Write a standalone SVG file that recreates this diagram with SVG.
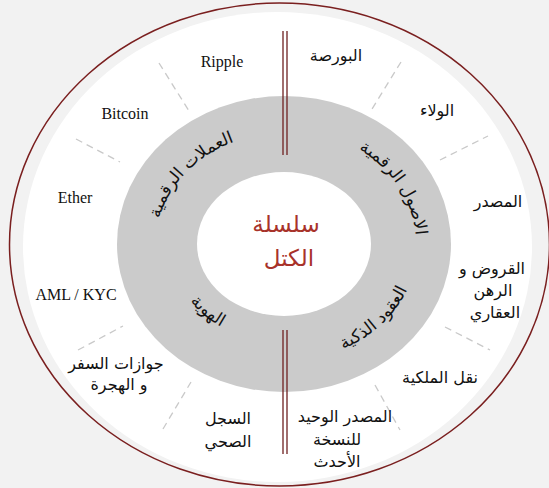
<svg xmlns="http://www.w3.org/2000/svg" width="549" height="488" viewBox="0 0 549 488">
<style>
.en{font-family:"Liberation Serif",serif;font-size:16px;fill:#111;text-anchor:middle}
.ar{font-family:"DejaVu Sans",sans-serif;font-size:16px;fill:#111;text-anchor:middle}
.arc{font-family:"DejaVu Sans",sans-serif;font-size:17px;fill:#111}
.ctr{font-family:"DejaVu Sans",sans-serif;font-size:23px;fill:#a8322a;text-anchor:middle}
.sep{stroke:#c9c9c9;stroke-width:1.3;stroke-dasharray:7 5;fill:none}
.dbl{stroke:#6e1f1f;stroke-width:1.3}
</style>
<defs>
<path id="pTL" d="M165.32,285.58 A128,111 0 0 1 301.81,134.08"/>
<path id="pTR" d="M288.61,129.07 A132,115 0 0 1 395.94,304.94"/>
<path id="pBR" d="M258.43,358.85 A134,117 0 0 0 410.7,205.9"/>
<path id="pBL" d="M174.03,215.05 A115,99 0 0 0 309.87,340.46"/>
</defs>
<rect width="549" height="488" fill="#f2f2f2"/>
<g id="frame">
<ellipse cx="279.5" cy="244.5" rx="270" ry="241.5" fill="none" stroke="#7a1f1f" stroke-width="1.5"/>
<ellipse cx="277.5" cy="247" rx="254.5" ry="235" fill="#ffffff"/>
<ellipse cx="284" cy="244" rx="167" ry="148" fill="#cbcbcb"/>
<ellipse cx="284" cy="244" rx="87" ry="72" fill="#ffffff"/>
</g>
<g id="connectors">
<line class="dbl" x1="283" y1="31" x2="283" y2="155"/>
<line class="dbl" x1="287" y1="31" x2="287" y2="155"/>
<line class="dbl" x1="283" y1="330" x2="283" y2="454"/>
<line class="dbl" x1="287" y1="330" x2="287" y2="454"/>
<line class="sep" x1="159" y1="63" x2="189" y2="111"/>
<line class="sep" x1="76" y1="139" x2="120" y2="162"/>
<line class="sep" x1="78" y1="350" x2="123" y2="326"/>
<line class="sep" x1="163" y1="429" x2="191" y2="382"/>
<line class="sep" x1="401" y1="62" x2="372" y2="109"/>
<line class="sep" x1="440" y1="160" x2="488" y2="136"/>
<line class="sep" x1="445" y1="327" x2="490" y2="350"/>
<line class="sep" x1="375" y1="385" x2="400" y2="430"/>
</g>
<g id="node-center"><text class="ctr" x="286" y="232">سلسلة</text><text class="ctr" x="289" y="266">الكتل</text></g>
<g id="node-currencies"><text class="arc"><textPath href="#pTL" startOffset="50%" text-anchor="middle">العملات الرقمية</textPath></text></g>
<g id="node-assets"><text class="arc"><textPath href="#pTR" startOffset="50%" text-anchor="middle">الاصول الرقمية</textPath></text></g>
<g id="node-contracts"><text class="arc"><textPath href="#pBR" startOffset="50%" text-anchor="middle">العقود الذكية</textPath></text></g>
<g id="node-identity"><text class="arc"><textPath href="#pBL" startOffset="50%" text-anchor="middle">الهوية</textPath></text></g>
<g id="node-ripple"><text class="en" x="222" y="67">Ripple</text></g>
<g id="node-bitcoin"><text class="en" x="125" y="119">Bitcoin</text></g>
<g id="node-ether"><text class="en" x="75" y="203">Ether</text></g>
<g id="node-aml"><text class="en" x="76" y="300">AML / KYC</text></g>
<g id="node-passports"><text class="ar" x="116" y="369">جوازات السفر</text><text class="ar" x="119" y="390">و الهجرة</text></g>
<g id="node-health"><text class="ar" x="228" y="424">السجل</text><text class="ar" x="228" y="447">الصحي</text></g>
<g id="node-source"><text class="ar" x="345" y="422">المصدر الوحيد</text><text class="ar" x="337" y="445">للنسخة</text><text class="ar" x="337" y="467">الأحدث</text></g>
<g id="node-transfer"><text class="ar" x="440" y="383">نقل الملكية</text></g>
<g id="node-loans"><text class="ar" x="492" y="274">القروض و</text><text class="ar" x="493" y="296">الرهن</text><text class="ar" x="495" y="318">العقاري</text></g>
<g id="node-source2"><text class="ar" x="498" y="207">المصدر</text></g>
<g id="node-loyalty"><text class="ar" x="437" y="116">الولاء</text></g>
<g id="node-exchange"><text class="ar" x="336" y="61">البورصة</text></g>
</svg>
